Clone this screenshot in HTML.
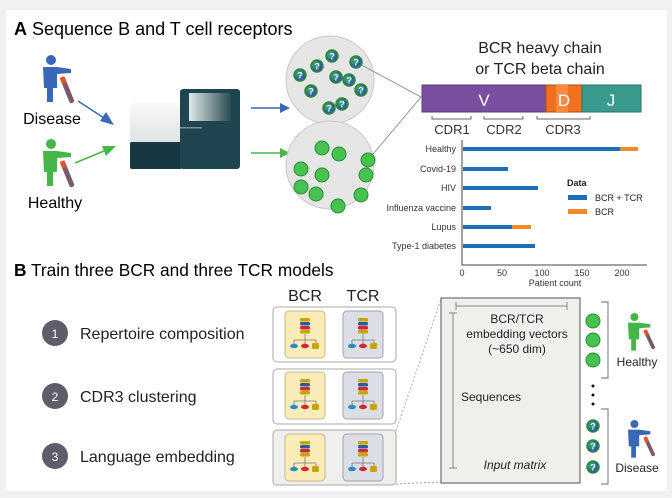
<!DOCTYPE html>
<html><head><meta charset="utf-8"><style>
html,body{margin:0;padding:0;background:#f1f1f1;}
svg{display:block;font-family:"Liberation Sans",sans-serif;}
</style></head><body>
<svg width="672" height="498" viewBox="0 0 672 498" xmlns="http://www.w3.org/2000/svg">
<defs>
<g id="pb">
 <circle cx="13" cy="5" r="5"/>
 <path d="M5 12 h14 l14 2 v4 l-14 1 v14 h-4 v14 h-6 v-14 h-3 z"/>
</g>
<g id="tube"><rect x="-2.5" y="0" width="5" height="28" rx="2.5" fill="#7a5a6a" /><rect x="-2.5" y="0" width="5" height="7" rx="1" fill="#e5532a"/></g>
<g id="tree">
 <rect x="-5" y="0" width="10" height="3.5" rx="1.5" fill="#c9a300"/>
 <rect x="-5" y="4" width="10" height="3.5" rx="1.5" fill="#2c5aa0"/>
 <rect x="-5" y="8" width="10" height="3.5" rx="1.5" fill="#d6262f"/>
 <rect x="-5" y="12" width="10" height="3.5" rx="1.5" fill="#c9a300"/>
 <path d="M0 16 v6 M-11 22 h22 M-11 22 v5 M0 22 v5 M11 22 v5" stroke="#777" stroke-width="0.8" fill="none"/>
 <ellipse cx="-11" cy="28" rx="4" ry="2.2" fill="#2a8ac8"/>
 <ellipse cx="0" cy="28" rx="4" ry="2.2" fill="#d6262f"/>
 <rect x="7" y="25" width="7" height="6" rx="1.5" fill="#c9a300"/>
</g>
<g id="q"><circle r="6" fill="#2f5fb0" stroke="#2c8a2c" stroke-width="1.5"/><circle r="4" cx="-1" cy="-1" fill="#39b54a" opacity=".6"/><text x="0" y="3.5" font-size="9" font-weight="bold" fill="#fff" text-anchor="middle">?</text></g>
<linearGradient id="scr" x1="0" x2="1"><stop offset="0" stop-color="#dfe8e8"/><stop offset="1" stop-color="#2a4b52"/></linearGradient>
<linearGradient id="lft" x1="0" y1="0" x2="0" y2="1"><stop offset="0" stop-color="#f8f8f8"/><stop offset="1" stop-color="#cfd6d8"/></linearGradient>
</defs>
<rect x="6" y="10" width="661" height="481" fill="#fff"/>

<text x="14" y="35" font-size="18"><tspan font-weight="bold">A</tspan>  Sequence B and T cell receptors</text>

<use href="#pb" x="38" y="55" fill="#3a68b8"/>
<use href="#tube" transform="translate(62,77) rotate(-22)"/>
<text x="52" y="124" font-size="16" text-anchor="middle">Disease</text>
<use href="#pb" x="38" y="139" fill="#46b649"/>
<use href="#tube" transform="translate(62,161) rotate(-22)"/>
<text x="55" y="208" font-size="16" text-anchor="middle">Healthy</text>

<path d="M78 101 L104 118" stroke="#3a68b8" stroke-width="1.5"/><path d="M114 125 L100 121 L106 112 Z" fill="#3a68b8"/>
<path d="M75 163 L104 151" stroke="#46b649" stroke-width="1.5"/><path d="M116 146 L106 156 L102 146 Z" fill="#46b649"/>

<rect x="130" y="103" width="52" height="66" rx="3" fill="url(#lft)"/>
<rect x="130" y="142" width="52" height="27" rx="2" fill="#163840"/>
<rect x="180" y="89" width="60" height="80" rx="3" fill="#1f4550"/>
<rect x="189" y="93" width="42" height="28" fill="url(#scr)"/>
<rect x="180" y="127" width="22" height="1.5" fill="#7a8f95"/>

<path d="M251 108 H281" stroke="#3a68b8" stroke-width="1.5"/><path d="M290 108 L280 103 V113 Z" fill="#3a68b8"/>
<path d="M251 153 H281" stroke="#46b649" stroke-width="1.5"/><path d="M290 153 L280 148 V158 Z" fill="#46b649"/>

<circle cx="330" cy="80" r="44" fill="#e6e6e6" stroke="#c8c8c8"/>
<circle cx="330" cy="165" r="44" fill="#e6e6e6" stroke="#c8c8c8"/>
<line x1="356" y1="62" x2="421" y2="97" stroke="#999"/>
<line x1="368" y1="160" x2="421" y2="97" stroke="#999"/>
<g>
<use href="#q" x="332" y="56"/><use href="#q" x="356" y="62"/><use href="#q" x="317" y="66"/>
<use href="#q" x="300" y="75"/><use href="#q" x="336" y="77"/><use href="#q" x="349" y="80"/>
<use href="#q" x="361" y="90"/><use href="#q" x="311" y="91"/><use href="#q" x="329" y="108"/><use href="#q" x="342" y="104"/>
</g>
<g fill="#46c250" stroke="#2e8a36" stroke-width="1">
<circle cx="322" cy="148" r="7"/><circle cx="339" cy="154" r="7"/><circle cx="368" cy="160" r="7"/>
<circle cx="301" cy="169" r="7"/><circle cx="322" cy="175" r="7"/><circle cx="366" cy="175" r="7"/>
<circle cx="301" cy="187" r="7"/><circle cx="316" cy="194" r="7"/><circle cx="361" cy="195" r="7"/><circle cx="338" cy="206" r="7"/>
</g>

<text x="540" y="53" font-size="16" text-anchor="middle" fill="#222">BCR heavy chain</text>
<text x="540" y="74" font-size="16" text-anchor="middle" fill="#222">or TCR beta chain</text>
<rect x="422" y="85" width="124" height="27" fill="#7a4fa0" stroke="#5a3a80"/>
<rect x="546" y="85" width="36" height="27" fill="#f07020" stroke="#b04a10"/>
<rect x="556" y="85" width="12" height="27" fill="#f58a40"/>
<rect x="582" y="85" width="59" height="27" fill="#3a9a8e" stroke="#2a7068"/>
<text x="484" y="106" font-size="17" fill="#fff" text-anchor="middle">V</text>
<text x="564" y="106" font-size="17" fill="#fff" text-anchor="middle">D</text>
<text x="611" y="106" font-size="17" fill="#fff" text-anchor="middle">J</text>
<path d="M432 116 v3 h39 v-3 M484 116 v3 h39 v-3 M537 116 v3 h53 v-3" stroke="#666" fill="none"/>
<g font-size="13" fill="#333" text-anchor="middle"><text x="452" y="134">CDR1</text><text x="504" y="134">CDR2</text><text x="563" y="134">CDR3</text></g>

<path d="M462 140 V265 H647" stroke="#444" fill="none"/>
<g font-size="9" fill="#333" text-anchor="end">
<text x="456" y="152">Healthy</text><text x="456" y="172">Covid-19</text><text x="456" y="191">HIV</text>
<text x="456" y="211">Influenza vaccine</text><text x="456" y="230">Lupus</text><text x="456" y="249">Type-1 diabetes</text>
</g>
<g fill="#1f6fb8">
<rect x="463" y="147" width="157" height="4"/><rect x="463" y="167" width="45" height="4"/>
<rect x="463" y="186" width="75" height="4"/><rect x="463" y="206" width="28" height="4"/>
<rect x="463" y="225" width="49" height="4"/><rect x="463" y="244" width="72" height="4"/>
</g>
<g fill="#f58a20"><rect x="620" y="147" width="18" height="4"/><rect x="512" y="225" width="19" height="4"/></g>
<g font-size="9" fill="#333" text-anchor="middle">
<text x="462" y="276">0</text><text x="502" y="276">50</text><text x="542" y="276">100</text><text x="582" y="276">150</text><text x="622" y="276">200</text>
<text x="555" y="286">Patient count</text></g>
<text x="567" y="186" font-size="9" font-weight="bold" fill="#222">Data</text>
<rect x="568" y="195" width="19" height="5" fill="#1f6fb8"/><text x="595" y="201" font-size="9" fill="#222">BCR + TCR</text>
<rect x="568" y="209" width="19" height="5" fill="#f58a20"/><text x="595" y="215" font-size="9" fill="#222">BCR</text>

<text x="14" y="276" font-size="17.3"><tspan font-weight="bold">B</tspan>  Train three BCR and three TCR models</text>
<g fill="#5e5d6b"><circle cx="55" cy="333" r="13"/><circle cx="55" cy="396" r="13"/><circle cx="55" cy="456" r="13"/></g>
<g font-size="12" fill="#fff" text-anchor="middle"><text x="55" y="338">1</text><text x="55" y="401">2</text><text x="55" y="461">3</text></g>
<g font-size="16" fill="#222"><text x="80" y="339">Repertoire composition</text><text x="80" y="402">CDR3 clustering</text><text x="80" y="462">Language embedding</text></g>
<g font-size="16" fill="#222" text-anchor="middle"><text x="305" y="301">BCR</text><text x="363" y="301">TCR</text></g>
<g stroke="#aaa" stroke-width="1">
<rect x="273" y="307" width="123" height="55" rx="4" fill="#fff"/>
<rect x="273" y="369" width="123" height="55" rx="4" fill="#fff"/>
<rect x="273" y="430" width="123" height="55" rx="4" fill="#efefed"/>
</g>
<g stroke="#c8b98a"><rect x="285" y="311" width="40" height="47" rx="4" fill="#faecb8"/><rect x="285" y="372" width="40" height="47" rx="4" fill="#faecb8"/><rect x="285" y="434" width="40" height="47" rx="4" fill="#faecb8"/></g>
<g stroke="#a0a3b0"><rect x="343" y="311" width="40" height="47" rx="4" fill="#dcdee6"/><rect x="343" y="372" width="40" height="47" rx="4" fill="#dcdee6"/><rect x="343" y="434" width="40" height="47" rx="4" fill="#dcdee6"/></g>
<use href="#tree" x="305" y="318"/><use href="#tree" x="363" y="318"/>
<use href="#tree" x="305" y="379"/><use href="#tree" x="363" y="379"/>
<use href="#tree" x="305" y="441"/><use href="#tree" x="363" y="441"/>

<path d="M396 431 L441 299 M396 484 L441 482" stroke="#aaa" stroke-dasharray="2 2"/>
<rect x="441" y="298" width="139" height="185" fill="#efefec" stroke="#888" stroke-width="1.5"/>
<path d="M456 302 v8 M456 306 H567 M567 302 v8 M449 313 h8 M453 313 V468 M449 468 h8" stroke="#888" fill="none"/>
<g font-size="12" fill="#222" text-anchor="middle"><text x="517" y="323">BCR/TCR</text><text x="517" y="338">embedding vectors</text><text x="517" y="353">(~650 dim)</text></g>
<text x="461" y="401" font-size="12" fill="#222">Sequences</text>
<text x="515" y="469" font-size="12" font-style="italic" fill="#222" text-anchor="middle">Input matrix</text>

<g fill="#46c250" stroke="#2e8a36"><circle cx="593" cy="321" r="7"/><circle cx="593" cy="340" r="7"/><circle cx="593" cy="360" r="7"/></g>
<g fill="#111"><circle cx="593" cy="386" r="1.5"/><circle cx="593" cy="395" r="1.5"/><circle cx="593" cy="404" r="1.5"/></g>
<use href="#q" x="593" y="426"/><use href="#q" x="593" y="446"/><use href="#q" x="593" y="467"/>
<path d="M601 302 h7 V378 h-7 M601 409 h7 V484 h-7" stroke="#888" fill="none" stroke-width="1.2"/>
<use href="#pb" transform="translate(624,313) scale(0.8)" fill="#46b649"/>
<use href="#tube" transform="translate(645,330) rotate(-25) scale(0.75)"/>
<text x="637" y="366" font-size="12" fill="#222" text-anchor="middle">Healthy</text>
<use href="#pb" transform="translate(624,420) scale(0.8)" fill="#3a68b8"/>
<use href="#tube" transform="translate(645,437) rotate(-25) scale(0.75)"/>
<text x="637" y="472" font-size="12" fill="#222" text-anchor="middle">Disease</text>
</svg>
</body></html>
